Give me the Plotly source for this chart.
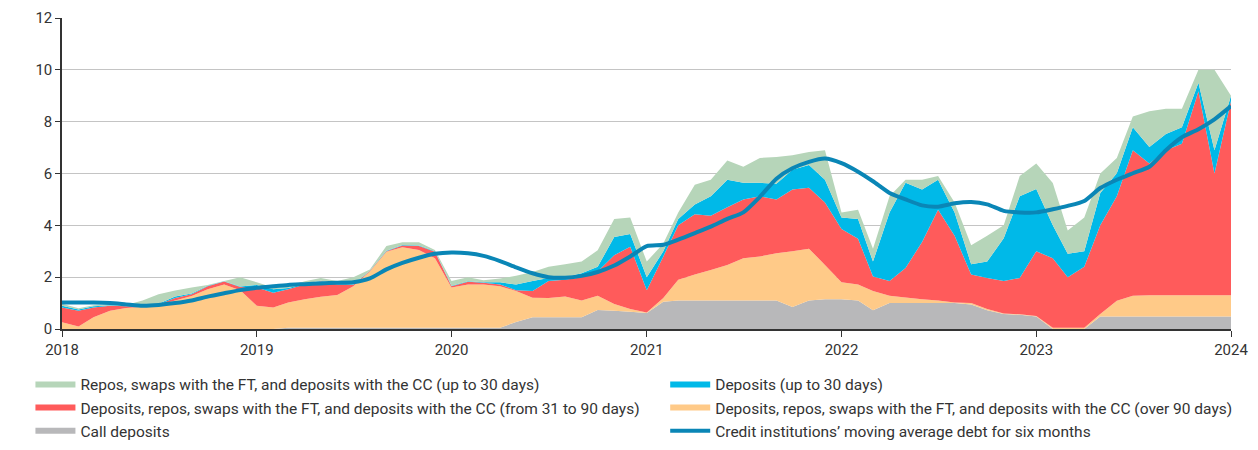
import pandas as pd
import plotly.graph_objects as go

# monthly observations, Jan 2018 .. Jan 2024
dates = pd.date_range("2018-01-01", "2024-01-01", freq="MS")

call_deposits = [0, 0, 0, 0, 0, 0, 0, 0, 0, 0, 0, 0,
                 0, 0, .05, .05, .05, .05, .05, .05, .05, .05, .05, .05,
                 .05, .05, .05, .05, .27, .45, .45, .45, .45, .73, .7, .67,
                 .62, 1.05, 1.1, 1.1, 1.1, 1.1, 1.1, 1.1, 1.1, .85, 1.1, 1.15,
                 1.15, 1.1, .72, 1.0, 1.0, 1.0, 1.0, 1.0, .95, .72, .58, .55,
                 .48, 0, 0, 0, .48, .48, .48, .48, .48, .48, .48, .48,
                 .48]
over_90 = [.26, .1, .45, .7, .81, .86, .93, 1.1, 1.27, 1.53, 1.72, 1.5,
           .9, .83, .97, 1.1, 1.19, 1.26, 1.6, 2.17, 2.93, 3.1, 3.0, 2.68,
           1.55, 1.67, 1.67, 1.6, 1.2, .76, .75, .8, .65, .55, .26, .1,
           .02, .15, .8, 1.0, 1.18, 1.37, 1.63, 1.7, 1.82, 2.15, 2.0, 1.32,
           .65, .62, .75, .28, .22, .15, .1, .02, .05, .05, .02, .02,
           .02, .05, .05, .05, .1, .61, .8, .82, .82, .82, .82, .82,
           .82]
from_31_to_90 = [.57, .6, .38, .2, .07, .04, .02, .1, .07, .12, .11, .12,
                 .7, .57, .51, .57, .6, .41, .05, .02, .02, .07, .15, .25,
                 .05, .1, .06, .07, .03, .26, .65, .65, .9, .94, 1.89, 2.4,
                 .86, 1.6, 2.1, 2.33, 2.09, 2.23, 2.27, 2.32, 2.08, 2.38, 2.35, 2.41,
                 2.06, 1.76, .56, .57, 1.13, 2.21, 3.5, 2.58, 1.1, 1.2, 1.25, 1.4,
                 2.5, 2.68, 1.95, 2.35, 3.42, 4.03, 5.62, 5.09, 5.6, 5.85, 7.87, 4.7,
                 7.5]
deposits_30 = [.07, .05, .05, .02, .02, .02, .02, .05, .03, .02, .01, .02,
               .1, .13, .05, .03, .02, .02, .02, .01, .02, .02, .02, .02,
               .02, .02, .02, .08, .22, .38, .12, .1, .15, .18, .7, .5,
               .5, .2, .24, .37, .75, 1.06, .64, .52, .6, .76, .88, .88,
               .44, .76, .57, 2.65, 3.29, 2.02, 1.16, .9, .4, .63, 1.65, 3.15,
               2.4, 1.27, .9, .6, 1.25, .89, .88, .63, .62, .63, .33, .9,
               .2]
repos_30 = [.07, .05, .04, .03, .03, .18, .37, .24, .23, .03, .01, .36,
            .1, .07, .07, .09, .11, .11, .28, .05, .18, .11, .13, .05,
            .18, .16, .08, .15, .33, .35, .43, .5, .45, .64, .69, .63,
            .6, .3, .26, .77, .64, .74, .62, .96, 1.04, .56, .5, 1.14,
            .2, .36, .5, .62, .12, .38, .14, .38, .73, 1.0, .5, .78,
            .99, 1.63, .9, 1.3, .75, .59, .42, 1.38, .98, .72, .5, 3.1,
            0]
moving_avg = [1.02, 1.02, 1.02, 1.0, .95, .9, .93, 1.0, 1.1, 1.25, 1.38, 1.5,
              1.59, 1.65, 1.7, 1.73, 1.76, 1.78, 1.8, 1.95, 2.3, 2.55, 2.75, 2.9,
              2.95, 2.92, 2.82, 2.62, 2.38, 2.15, 2.0, 1.98, 2.05, 2.2, 2.45, 2.8,
              3.2, 3.25, 3.45, 3.7, 3.95, 4.25, 4.5, 5.1, 5.8, 6.2, 6.45, 6.58,
              6.4, 6.07, 5.7, 5.25, 5.0, 4.77, 4.72, 4.85, 4.9, 4.81, 4.56, 4.5,
              4.5, 4.62, 4.75, 4.94, 5.44, 5.76, 6.01, 6.26, 6.9, 7.4, 7.71, 8.09,
              8.6]

fig = go.Figure()

# (values, name, colour, legend column, row)
areas = [
    (call_deposits, "Call deposits", "#b8b8ba", "legend", 3),
    (over_90, "Deposits, repos, swaps with the FT, and deposits with the CC (over 90 days)", "#ffca88", "legend2", 2),
    (from_31_to_90, "Deposits, repos, swaps with the FT, and deposits with the CC (from 31 to 90 days)", "#ff5b5b", "legend", 2),
    (deposits_30, "Deposits (up to 30 days)", "#00b9e8", "legend2", 1),
    (repos_30, "Repos, swaps with the FT, and deposits with the CC (up to 30 days)", "#b6d5b9", "legend", 1),
]
for vals, name, col, leg, rank in areas:
    fig.add_trace(go.Scatter(
        x=dates, y=vals, name=name, stackgroup="one", mode="none",
        fillcolor=col, legend=leg, legendrank=rank,
    ))

fig.add_trace(go.Scatter(
    x=dates, y=moving_avg, mode="lines", legend="legend2", legendrank=3,
    name="Credit institutions’ moving average debt for six months",
    line=dict(color="#0a86b6", width=4, shape="spline", smoothing=0.6),
))

legend_style = dict(
    orientation="v", y=-0.125, yanchor="top", xanchor="left",
    traceorder="normal", itemwidth=40, bgcolor="rgba(0,0,0,0)",
    font=dict(family="Roboto", size=15.5, color="#333"),
)

# page body adds 8px, so the figure starts 8px in; bottom part falls outside the window
fig.update_layout(
    width=1250, height=450,
    margin=dict(l=54, r=27, t=10, b=126),
    plot_bgcolor="white", paper_bgcolor="white",
    font=dict(family="Roboto", size=15, color="#333"),
    showlegend=True,
    legend=dict(x=-0.027, **legend_style),
    legend2=dict(x=0.516, **legend_style),
)
fig.update_xaxes(
    range=["2018-01-01", "2024-01-01"], dtick="M12", tickformat="%Y",
    showline=True, linecolor="#333", linewidth=1.5, ticks="outside",
    ticklen=6, tickcolor="#333", showgrid=False, automargin=False,
)
fig.update_yaxes(
    range=[0, 12], dtick=2, showline=True, linecolor="#333", linewidth=1.5,
    ticks="outside", ticklen=5, tickcolor="#333", automargin=False,
    ticklabeloverflow="allow",
    showgrid=True, gridcolor="#c4c4c4", gridwidth=1.2, zeroline=False,
)

fig.write_html("out.html")
